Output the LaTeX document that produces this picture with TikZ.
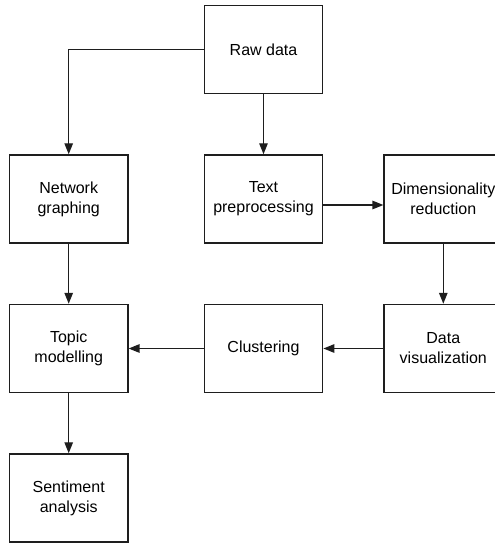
\documentclass[tikz,border=0pt]{standalone}
\usepackage{fontspec}
\setmainfont{Liberation Sans}
\usepackage{tikz}
\usetikzlibrary{arrows.meta,positioning}
\definecolor{boxline}{RGB}{30,30,30}

\begin{document}
\begin{tikzpicture}[x=1pt, y=1pt, font=\fontsize{16}{20}\selectfont,
    box/.style={rectangle, draw=boxline, line width=1.3pt, fill=white,
      minimum width=118.5pt, minimum height=88.2pt, align=center, inner sep=2pt},
    flow/.style={-{Triangle[length=11pt,width=8.5pt]}, line width=1.3pt, draw=boxline}]
  \useasboundingbox (0,0) rectangle (495,-546);
  \clip (0,0) rectangle (495,-546);

  \node[box] (raw) at (263.5,-49.5) {Raw data};
  \node[box, below=60pt of raw] (text) {Text\\preprocessing};
  \node[box, left=75pt of text] (network) {Network\\graphing};
  \node[box, right=60pt of text] (dimred) {Dimensionality\\reduction};
  \node[box, below=60pt of dimred] (datavis) {Data\\visualization};
  \node[box, below=60pt of text] (cluster) {Clustering};
  \node[box, below=60pt of network] (topic) {Topic\\modelling};
  \node[box, below=60pt of topic] (sentiment) {Sentiment\\analysis};

  \draw[flow] (raw.west) -| (network.north);
  \draw[flow] (raw) -- (text);
  \draw[flow] ([yshift=-6pt]text.east) -- ([yshift=-6pt]dimred.west);
  \draw[flow] (dimred) -- (datavis);
  \draw[flow] (datavis) -- (cluster);
  \draw[flow] (cluster) -- (topic);
  \draw[flow] (network) -- (topic);
  \draw[flow] (topic) -- (sentiment);
\end{tikzpicture}
\end{document}
